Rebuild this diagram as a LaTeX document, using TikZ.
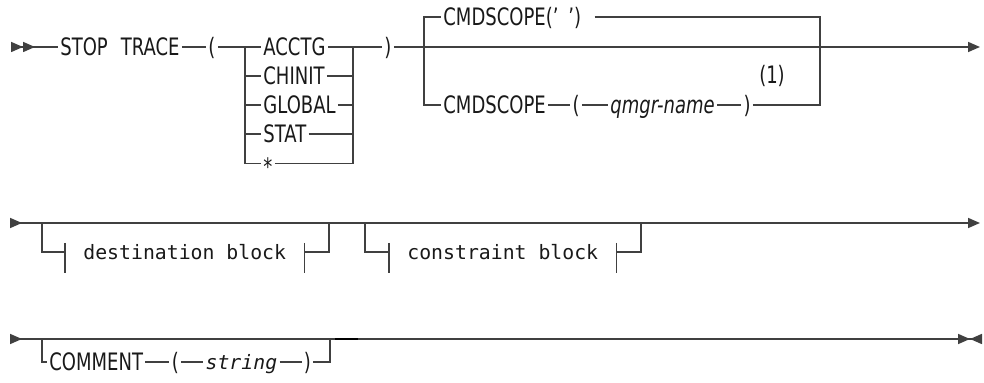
\documentclass[tikz,border=0pt]{standalone}
\usepackage{fontspec}
\newfontfamily\kwfont[FakeStretch=0.75]{DejaVu Sans}
\newfontfamily\monofont{DejaVu Sans Mono}
\usetikzlibrary{arrows.meta, positioning}
\tikzset{
  tri/.tip={Triangle[length=6pt, width=5pt]},
  rail/.style={line width=0.8pt, draw=black!75},
  railstart/.style={rail, arrows={tri[reversed] tri[reversed]-}},
  railcont/.style={rail, arrows={tri[reversed]-}},
  railgo/.style={rail, arrows={-tri}},
  railend/.style={rail, arrows={-tri[] tri[reversed]}},
  kw/.style={font=\kwfont\fontsize{12pt}{14pt}\selectfont, text=black!90, inner xsep=1pt, inner ysep=0pt, text height=8.7pt, text depth=0pt},
  var/.style={kw, font=\kwfont\itshape\fontsize{12pt}{14pt}\selectfont},
  mvar/.style={kw, font=\monofont\itshape\fontsize{9.9pt}{12pt}\selectfont, text height=7.4pt},
  blk/.style={font=\monofont\fontsize{9.9pt}{12pt}\selectfont, text=black!90, inner xsep=9pt, inner ysep=0pt, text height=7.4pt, text depth=0pt},
}
\begin{document}
\begin{tikzpicture}[x=0.5pt, y=-0.5pt]
  \useasboundingbox (0,0) rectangle (984,383);
  % first line
  \coordinate (r1s) at (11,47);
  \node[kw, anchor=west] (stop) at (58,47) {STOP\hspace{6.5pt}TRACE};
  \node[kw, right=12pt of stop] (lp1) {(};
  \coordinate (optL) at (245,47);
  \coordinate (optR) at (353,47);
  \foreach \opt/\name [count=\i from 0] in {ACCTG/acctg, CHINIT/chinit, GLOBAL/global, STAT/stat}
    \node[kw, anchor=west] (\name) at (261,47+29.1*\i) {\opt};
  \node[kw, anchor=west, text height=12.6pt] (star) at (261,163.4) {*};
  \node[kw, anchor=west] (rp1) at (382,47) {)};
  \coordinate (scL) at (424,47);
  \coordinate (scR) at (820,47);
  \coordinate (r1e) at (980,47);
  \node[kw, anchor=west] (scdef) at (441,17) {CMDSCOPE(’\hspace{5pt}’)};
  \node[kw, anchor=west] (scq) at (441,105) {CMDSCOPE};
  \node[kw, right=11pt of scq] (lp2) {(};
  \node[var, right=13pt of lp2] (qmgr) {qmgr-name};
  \node[kw, right=12pt of qmgr] (rp2) {)};
  \node[kw] (note1) at (772,75) {(1)};
  \draw[railstart] (r1s) -- (stop);
  \draw[rail] (stop) -- (lp1);
  \draw[rail] (lp1) -- (acctg);
  \foreach \name in {chinit, global, stat, star}
    \draw[rail] (optL) |- (\name);
  \foreach \name in {acctg, chinit, global, stat, star}
    \draw[rail] (\name) -| (optR);
  \draw[rail] (optR) -- (rp1);
  \draw[railgo] (rp1) -- (r1e);
  \draw[rail] (scL) |- (scdef);
  \draw[rail, shorten <=5.5pt] (scdef) -| (scR);
  \draw[rail] (scL) |- (scq);
  \draw[rail] (scq) -- (lp2);
  \draw[rail] (lp2) -- (qmgr);
  \draw[rail] (qmgr) -- (rp2);
  \draw[rail] (rp2) -| (scR);
  % second line
  \coordinate (r2s) at (10,223);
  \coordinate (dL) at (42,223);
  \coordinate (dR) at (329,223);
  \coordinate (cL) at (365,223);
  \coordinate (cR) at (641,223);
  \coordinate (r2e) at (980,223);
  \node[blk, anchor=west] (dest) at (65,252) {destination block};
  \node[blk, anchor=west] (cons) at (389,252) {constraint block};
  \draw[railcont] (r2s) -- (dL);
  \draw[railgo] (dL) -- (r2e);
  \draw[rail] (dL) |- (dest);
  \draw[rail] (dest) -| (dR);
  \draw[rail] (cL) |- (cons);
  \draw[rail] (cons) -| (cR);
  \foreach \b in {dest, cons} {
    \draw[rail] ([yshift=4.5pt]\b.west) -- ([yshift=-10.5pt]\b.west);
    \draw[rail] ([yshift=4.5pt]\b.east) -- ([yshift=-10.5pt]\b.east);
  }
  % third line
  \coordinate (r3s) at (10,339);
  \coordinate (cmL) at (42,339);
  \coordinate (cmR) at (330,339);
  \coordinate (mk1) at (335,339);
  \coordinate (mk2) at (358,339);
  \coordinate (r3e) at (982,339);
  \node[kw, anchor=west] (cmt) at (47,362) {COMMENT};
  \node[kw, right=12pt of cmt] (lp3) {(};
  \node[mvar, right=11pt of lp3] (str) {string};
  \node[kw, right=11pt of str] (rp3) {)};
  \draw[railcont] (r3s) -- (cmL);
  \draw[railend] (cmL) -- (r3e);
  \draw[rail] (cmL) |- (cmt);
  \draw[rail] (cmt) -- (lp3);
  \draw[rail] (lp3) -- (str);
  \draw[rail] (str) -- (rp3);
  \draw[rail] (rp3) -| (cmR);
  \draw[line width=1.3pt, black] (mk1) -- (mk2);
\end{tikzpicture}
\end{document}
